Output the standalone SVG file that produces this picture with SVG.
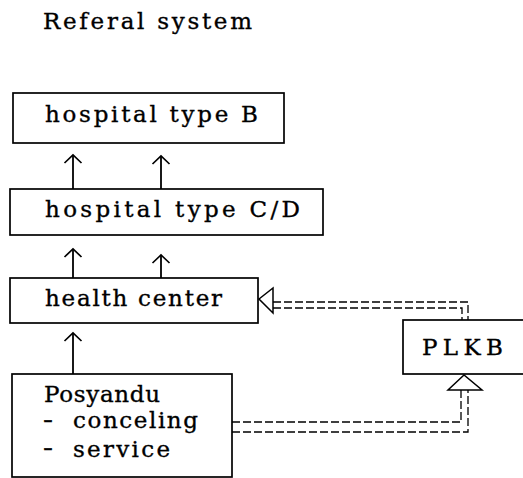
<svg xmlns="http://www.w3.org/2000/svg" width="523" height="478" viewBox="0 0 523 478">
<style>
.box{fill:#fff;stroke:#000;stroke-width:1.7}
.t{font-family:"DejaVu Serif","Liberation Serif",serif;font-size:23px;fill:#000;stroke:#000;stroke-width:0.35}
.arr{fill:none;stroke:#000;stroke-width:1.8}
.dash{fill:none;stroke:#000;stroke-width:1.3;stroke-dasharray:8 3}
.tri{fill:#fff;stroke:#000;stroke-width:1.5}
</style>
<defs>
<marker id="chev" markerUnits="userSpaceOnUse" markerWidth="20" markerHeight="20" viewBox="-10 -10 20 20" refX="0" refY="0" orient="auto">
<path d="M-8,-8.5 L0,0 L-8,8.5" fill="none" stroke="#000" stroke-width="1.7"/>
</marker>
</defs>
<text class="t" x="43" y="29" font-size="21" textLength="209" lengthAdjust="spacing">Referal system</text>
<g id="hospB">
<rect class="box" x="13" y="93" width="271" height="50"/>
<text class="t" x="45" y="122" textLength="213" lengthAdjust="spacing">hospital type B</text>
</g>
<g id="hospCD">
<rect class="box" x="10" y="189" width="313" height="46"/>
<text class="t" x="45" y="217" textLength="255" lengthAdjust="spacing">hospital type C/D</text>
</g>
<g id="health">
<rect class="box" x="10" y="278" width="248" height="45"/>
<text class="t" x="45" y="306" textLength="177" lengthAdjust="spacing">health center</text>
</g>
<g id="posyandu">
<rect class="box" x="12" y="374" width="220" height="103"/>
<text class="t" x="44" y="402" textLength="116" lengthAdjust="spacing">Posyandu</text>
<text class="t" x="43" y="427" textLength="10" lengthAdjust="spacingAndGlyphs">-</text>
<text class="t" x="73" y="428" textLength="125" lengthAdjust="spacing">conceling</text>
<text class="t" x="43" y="455" textLength="10" lengthAdjust="spacingAndGlyphs">-</text>
<text class="t" x="73" y="457" textLength="97" lengthAdjust="spacing">service</text>
</g>
<g id="plkb">
<rect class="box" x="403" y="320" width="124" height="54"/>
<text class="t" x="422" y="355" textLength="81" lengthAdjust="spacing">PLKB</text>
</g>
<g id="connectors">
<line class="arr" x1="73" y1="189" x2="73" y2="155" marker-end="url(#chev)"/>
<line class="arr" x1="161" y1="189" x2="161" y2="156" marker-end="url(#chev)"/>
<line class="arr" x1="73" y1="278" x2="73" y2="249" marker-end="url(#chev)"/>
<line class="arr" x1="161" y1="278" x2="161" y2="255" marker-end="url(#chev)"/>
<line class="arr" x1="73" y1="374" x2="73" y2="333" marker-end="url(#chev)"/>
<path class="dash" d="M273,302 H468 V320"/>
<path class="dash" d="M273,308 H462 V320"/>
<polygon class="tri" points="259,299 273,288 273,313"/>
<path class="dash" d="M232,422 H461 V389"/>
<path class="dash" d="M232,432 H468 V389"/>
<polygon class="tri" points="464,375 448,390 482,390"/>
</g>
</svg>
